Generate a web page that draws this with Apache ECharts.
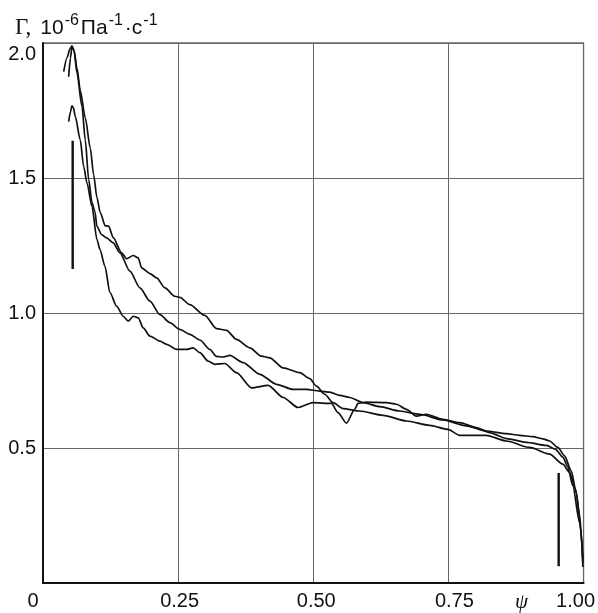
<!DOCTYPE html>
<html>
<head>
<meta charset="utf-8">
<script src="https://cdn.jsdelivr.net/npm/echarts@6/dist/echarts.min.js"></script>
<style>
  html, body { margin: 0; padding: 0; background: #fff; }
  #chart { width: 598px; height: 613px; }
</style>
</head>
<body>
<div id="chart"></div>
<script>
// Γ(ψ) curves, three measurements: [ψ, Γ·10^6]
const curveA = [
  [0.0383, 1.894], [0.0444, 1.945], [0.0499, 1.978], [0.0536, 1.989], [0.0573, 1.974],
  [0.0628, 1.908], [0.0689, 1.826], [0.0782, 1.723], [0.0874, 1.612], [0.0937, 1.512],
  [0.0998, 1.427], [0.1059, 1.372], [0.1152, 1.323], [0.1214, 1.322], [0.1299, 1.279],
  [0.1455, 1.223], [0.1547, 1.201], [0.1669, 1.213], [0.1762, 1.204], [0.1824, 1.167],
  [0.1978, 1.146], [0.2102, 1.130], [0.2255, 1.093], [0.2440, 1.062], [0.2532, 1.058],
  [0.2717, 1.031], [0.2994, 0.991], [0.3211, 0.942], [0.3396, 0.936], [0.3580, 0.902],
  [0.3826, 0.871], [0.4043, 0.840], [0.4196, 0.834], [0.4442, 0.797], [0.4750, 0.779],
  [0.4935, 0.757], [0.5059, 0.729], [0.5213, 0.699], [0.5366, 0.668], [0.5551, 0.646],
  [0.5860, 0.637], [0.6290, 0.621], [0.6723, 0.600], [0.7153, 0.584], [0.7492, 0.569],
  [0.7708, 0.547], [0.8201, 0.547], [0.8571, 0.526], [0.9002, 0.502], [0.9372, 0.477],
  [0.9617, 0.440], [0.9741, 0.410], [0.9852, 0.348], [0.9926, 0.255], [0.9972, 0.144],
  [0.9987, 0.059]
];
const curveB = [
  [0.0475, 1.875], [0.0508, 1.945], [0.0536, 1.985], [0.0573, 1.974], [0.0628, 1.889],
  [0.0721, 1.765], [0.0782, 1.641], [0.0845, 1.494], [0.0906, 1.409], [0.0961, 1.375],
  [0.0998, 1.321], [0.1085, 1.290], [0.1177, 1.278], [0.1299, 1.260], [0.1423, 1.223],
  [0.1608, 1.155], [0.1793, 1.093], [0.1978, 1.044], [0.2163, 0.994], [0.2348, 0.964],
  [0.2532, 0.939], [0.2717, 0.921], [0.2902, 0.900], [0.3087, 0.865], [0.3211, 0.839],
  [0.3327, 0.837], [0.3457, 0.843], [0.3702, 0.816], [0.4011, 0.773], [0.4320, 0.736],
  [0.4627, 0.717], [0.4874, 0.717], [0.5120, 0.711], [0.5305, 0.707], [0.5490, 0.695],
  [0.5675, 0.687], [0.5921, 0.668], [0.6229, 0.653], [0.6599, 0.637], [0.6969, 0.625],
  [0.7399, 0.604], [0.7832, 0.582], [0.8201, 0.563], [0.8571, 0.553], [0.8817, 0.547],
  [0.9063, 0.542], [0.9248, 0.534], [0.9372, 0.526], [0.9525, 0.502], [0.9649, 0.471],
  [0.9773, 0.415], [0.9865, 0.335], [0.9957, 0.187], [0.9987, 0.077]
];
const curveC = [
  [0.0475, 1.709], [0.0508, 1.745], [0.0536, 1.767], [0.0564, 1.760], [0.0597, 1.728],
  [0.0689, 1.641], [0.0752, 1.543], [0.0813, 1.482], [0.0906, 1.395], [0.0998, 1.272],
  [0.1054, 1.235], [0.1146, 1.173], [0.1238, 1.076], [0.1362, 1.025], [0.1484, 0.988],
  [0.1577, 0.970], [0.1669, 0.988], [0.1762, 0.982], [0.1854, 0.945], [0.1978, 0.914],
  [0.2163, 0.896], [0.2287, 0.884], [0.2471, 0.865], [0.2656, 0.865], [0.2778, 0.871],
  [0.2902, 0.853], [0.3055, 0.822], [0.3179, 0.810], [0.3364, 0.813], [0.3580, 0.779],
  [0.3858, 0.723], [0.4165, 0.732], [0.4442, 0.687], [0.4719, 0.650], [0.4996, 0.668],
  [0.5336, 0.665], [0.5458, 0.631], [0.5614, 0.592], [0.5767, 0.643], [0.5828, 0.665],
  [0.5983, 0.670], [0.6353, 0.668], [0.6538, 0.662], [0.6723, 0.643], [0.6908, 0.618],
  [0.7092, 0.625], [0.7399, 0.606], [0.7708, 0.594], [0.8017, 0.576], [0.8262, 0.557],
  [0.8571, 0.535], [0.8941, 0.521], [0.9311, 0.510], [0.9482, 0.495], [0.9617, 0.466],
  [0.9704, 0.433], [0.9802, 0.360], [0.9926, 0.224], [0.9987, 0.089]
];
// vertical marker segments near both ends
const markerLeft = [[0.0549, 1.163], [0.0549, 1.638]];
const markerRight = [[0.954, 0.062], [0.954, 0.407]];

// axis ticks
const xTicks = [0, 0.25, 0.5, 0.75, 1];
const xTickLabels = ['0', '0.25', '0.50', '0.75', '1.00'];
const yTicks = [0.5, 1.0, 1.5, 2.0];
const yTickLabels = ['0.5', '1.0', '1.5', '2.0'];

const SANS = 'Arial, "Liberation Sans", sans-serif';
const SERIF = '"Times New Roman", "Liberation Serif", serif';
const INK = '#111';

const labelFont = { fontFamily: SANS, fontSize: 20, fontWeight: 'normal', color: INK };

function xLabel(v) {
  const i = xTicks.findIndex(t => Math.abs(t - v) < 1e-9);
  if (i < 0) return '';
  const styleNames = ['x0', 'x1', 'x2', 'x3', 'x4'];
  return '{' + styleNames[i] + '|' + xTickLabels[i] + '}';
}
function yLabel(v) {
  const i = yTicks.findIndex(t => Math.abs(t - v) < 1e-9);
  if (i < 0) return '';
  return i === yTicks.length - 1 ? '{top|' + yTickLabels[i] + '}' : '{n|' + yTickLabels[i] + '}';
}

const lineSeries = (data) => ({
  type: 'line',
  data: data,
  showSymbol: false,
  smooth: 0.25,
  smoothMonotone: 'x',
  lineStyle: { color: INK, width: 1.7 },
  silent: true
});
const markerSeries = (data) => ({
  type: 'line',
  data: data,
  showSymbol: false,
  lineStyle: { color: INK, width: 2.4 },
  silent: true
});

const chart = echarts.init(document.getElementById('chart'), null, { renderer: 'canvas' });
chart.setOption({
  backgroundColor: '#fff',
  animation: false,
  title: {
    left: 10,
    top: 8,
    text: '{g|Γ,} {n|10}{s|-6}{n|Па}{s|-1}{n|·с}{s|-1}',
    textStyle: {
      fontWeight: 'normal',
      rich: {
        g: { fontFamily: SERIF, fontSize: 23, fontWeight: 'normal', color: INK, lineHeight: 26, verticalAlign: 'bottom', padding: [0, 4, 0, 0] },
        n: { fontFamily: SANS, fontSize: 21, fontWeight: 'normal', color: INK, lineHeight: 26, verticalAlign: 'bottom' },
        s: { fontFamily: SANS, fontSize: 16, fontWeight: 'normal', color: INK, lineHeight: 13, verticalAlign: 'top', padding: [0, 2, 0, 1] }
      }
    }
  },
  grid: {
    left: 43, top: 43, right: 14, bottom: 29,
    show: true, borderColor: '#222', borderWidth: 1.2
  },
  xAxis: {
    type: 'value',
    min: 0, max: 1, interval: 0.25,
    name: 'ψ',
    nameLocation: 'end',
    nameGap: -62,
    nameTextStyle: {
      fontFamily: SERIF, fontStyle: 'italic', fontSize: 21, color: INK,
      align: 'center', verticalAlign: 'top', padding: [9, 0, 0, 0]
    },
    axisLine: { show: true, lineStyle: { color: INK, width: 2 } },
    axisTick: { show: false },
    splitLine: { show: true, lineStyle: { color: '#666', width: 1 } },
    axisLabel: {
      margin: 8,
      formatter: xLabel,
      ...labelFont,
      rich: {
        x0: { ...labelFont, padding: [0, 20, 0, 0] },
        x1: { ...labelFont, padding: [0, 0, 0, 3] },
        x2: { ...labelFont, padding: [0, 0, 0, 6] },
        x3: { ...labelFont, padding: [0, 0, 0, 12] },
        x4: { ...labelFont, padding: [0, 16, 0, 0] }
      }
    }
  },
  yAxis: {
    type: 'value',
    min: 0, max: 2, interval: 0.5,
    axisLine: { show: true, lineStyle: { color: INK, width: 2 } },
    axisTick: { show: false },
    splitLine: { show: true, lineStyle: { color: '#666', width: 1 } },
    axisLabel: {
      margin: 7,
      formatter: yLabel,
      ...labelFont,
      rich: {
        n: { ...labelFont },
        top: { ...labelFont, padding: [23, 0, 0, 0] }
      }
    }
  },
  series: [
    lineSeries(curveA),
    lineSeries(curveB),
    lineSeries(curveC),
    markerSeries(markerLeft),
    markerSeries(markerRight)
  ]
});
</script>
</body>
</html>
